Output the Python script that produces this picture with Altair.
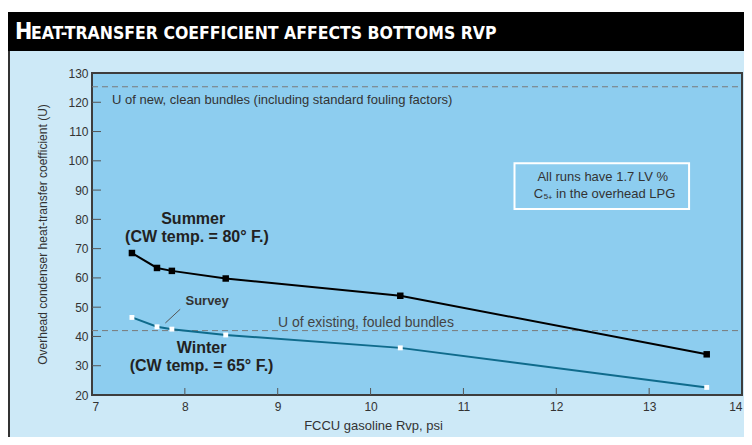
import altair as alt
import pandas as pd

# ---- data ----
rvp = [7.43, 7.70, 7.86, 8.44, 10.32, 13.62]
summer_u = [68.5, 63.4, 62.4, 59.8, 53.9, 33.9]
winter_u = [46.5, 43.3, 42.5, 40.5, 36.1, 22.6]
x_ticks = [7, 8, 9, 10, 11, 12, 13, 14]
y_ticks = [20, 30, 40, 50, 60, 70, 80, 90, 100, 110, 120, 130]
ref_levels = [125.3, 42.0]           # new/clean and existing/fouled U
survey_leader = [7.79, 44.6, 7.95, 49.3]
box_extent = [11.55, 13.43, 83.5, 99.2]

W, H = 650, 322
FONT = "Liberation Sans"

xscale = alt.Scale(domain=[7, 14], nice=False, zero=False)
yscale = alt.Scale(domain=[20, 130], nice=False, zero=False)
xaxis = alt.Axis(values=x_ticks, tickSize=0, domain=False, grid=False,
                 labelFont=FONT, labelFontSize=12, labelColor="#333",
                 labelPadding=6, labelFlush=True, title="FCCU gasoline Rvp, psi",
                 titleFont=FONT, titleFontSize=13, titleFontWeight="normal",
                 titleColor="#333", titleX=281, titleY=34,
                 titleAlign="center", titleBaseline="alphabetic", zindex=1)
yaxis = alt.Axis(values=y_ticks, tickSize=0, domain=False, grid=False,
                 labelFont=FONT, labelFontSize=12, labelColor="#333",
                 labelPadding=4,
                 title="Overhead condenser heat-transfer coefficient (U)",
                 titleFont=FONT, titleFontSize=12, titleFontWeight="normal",
                 titleColor="#333", titleAngle=-90, titleX=-50, titleY=H / 2,
                 titleAlign="center", titleBaseline="middle", zindex=1)


def X(f="x"):
    return alt.X(f"{f}:Q", scale=xscale, axis=xaxis)


def Y(f="y"):
    return alt.Y(f"{f}:Q", scale=yscale, axis=yaxis)


one = pd.DataFrame({"k": [0]})

# ---- decorations (pixel space) ----
panel = alt.Chart(one).mark_rect(fill="#cde9f7").encode(
    x=alt.value(-84), x2=alt.value(652), y=alt.value(-23), y2=alt.value(364))
panel_edge = alt.Chart(one).mark_rule(color="#333", strokeWidth=2).encode(
    x=alt.value(-83), y=alt.value(-23), y2=alt.value(364))
band = alt.Chart(one).mark_rect(fill="black").encode(
    x=alt.value(-84), x2=alt.value(652), y=alt.value(-61), y2=alt.value(-22))
title_h = alt.Chart(one).mark_text(
    text="H", font="DejaVu Sans Condensed", fontSize=23, fontWeight="bold",
    color="white", align="left", baseline="alphabetic").encode(
    x=alt.value(-77), y=alt.value(-34))
title_rest = alt.Chart(one).mark_text(
    text="EAT-TRANSFER COEFFICIENT AFFECTS BOTTOMS RVP",
    font="DejaVu Sans Condensed", fontSize=17.5, fontWeight="bold",
    color="white", align="left", baseline="alphabetic").encode(
    x=alt.value(-61), y=alt.value(-34))
plot_bg = alt.Chart(one).mark_rect(fill="#8dcdef", stroke="#3d3d3d",
                                   strokeWidth=2).encode(
    x=alt.value(0), x2=alt.value(W), y=alt.value(0), y2=alt.value(H))

# inward ticks
yt = pd.DataFrame({"y": y_ticks[1:-1]})
ytick = alt.Chart(yt).mark_rule(color="#555", strokeWidth=1).encode(
    y=Y(), x=alt.value(0), x2=alt.value(9))
xt = pd.DataFrame({"x": x_ticks[1:-1]})
xtick = alt.Chart(xt).mark_rule(color="#555", strokeWidth=1).encode(
    x=X(), y=alt.value(H), y2=alt.value(H - 7))

# reference dashed lines
refs = alt.Chart(pd.DataFrame({"y": ref_levels})).mark_rule(
    color="#7a7a7a", strokeWidth=1, strokeDash=[6, 4]).encode(
    y=Y(), x=alt.value(0), x2=alt.value(W))

# annotation box
box = alt.Chart(pd.DataFrame({"x": [box_extent[0]], "x2": [box_extent[1]],
                              "y": [box_extent[2]], "y2": [box_extent[3]]})
                ).mark_rect(fillOpacity=0, stroke="white", strokeWidth=2).encode(
    x=X(), x2="x2:Q", y=Y(), y2="y2:Q")

leader = alt.Chart(pd.DataFrame({"x": [survey_leader[0]], "y": [survey_leader[1]],
                                 "x2": [survey_leader[2]], "y2": [survey_leader[3]]})
                   ).mark_rule(color="#555", strokeWidth=1).encode(
    x=X(), y=Y(), x2="x2:Q", y2="y2:Q")


def label(txt, x, y, size, weight="normal", color="#222", align="center"):
    return alt.Chart(pd.DataFrame({"x": [x], "y": [y]})).mark_text(
        text=txt, font=FONT, fontSize=size, fontWeight=weight, color=color,
        align=align, baseline="alphabetic").encode(x=X(), y=Y())


labels = [
    label("U of new, clean bundles (including standard fouling factors)",
          7.215, 119.3, 13, color="#333", align="left"),
    label("U of existing, fouled bundles", 9.95, 43.3, 14, color="#444"),
    label("Summer", 8.09, 78.3, 16, "bold"),
    label("(CW temp. = 80° F.)", 8.13, 72.2, 16, "bold"),
    label("Winter", 8.18, 34.3, 16, "bold"),
    label("(CW temp. = 65° F.)", 8.18, 28.2, 16, "bold"),
    label("Survey", 8.24, 50.6, 13, "bold", color="#333"),
    label("All runs have 1.7 LV %", 12.50, 93.2, 13, color="#333"),
    label("C₅₊ in the overhead LPG", 12.52, 87.2, 13, color="#333"),
]

sdf = pd.DataFrame({"x": rvp, "y": summer_u})
wdf = pd.DataFrame({"x": rvp, "y": winter_u})
summer_line = alt.Chart(sdf).mark_line(color="black", strokeWidth=2,
                                       interpolate="linear").encode(x=X(), y=Y())
summer_pts = alt.Chart(sdf).mark_square(color="black", size=42, opacity=1).encode(
    x=X(), y=Y())
winter_line = alt.Chart(wdf).mark_line(color="#0f6b8c", strokeWidth=2,
                                       interpolate="linear").encode(x=X(), y=Y())
winter_pts = alt.Chart(wdf).mark_square(color="white", size=24, opacity=1).encode(
    x=X(), y=Y())

chart = alt.layer(
    panel, panel_edge, band, title_h, title_rest, plot_bg, ytick, xtick, refs,
    box, leader, *labels, summer_line, winter_line, summer_pts, winter_pts
).properties(
    width=W, height=H,
    autosize=alt.AutoSizeParams(type="none"),
    padding={"left": 84, "top": 65, "right": 2, "bottom": 42},
    background="white",
).configure_view(stroke=None)

chart.save("out.html", embed_options={"renderer": "svg", "actions": False})
